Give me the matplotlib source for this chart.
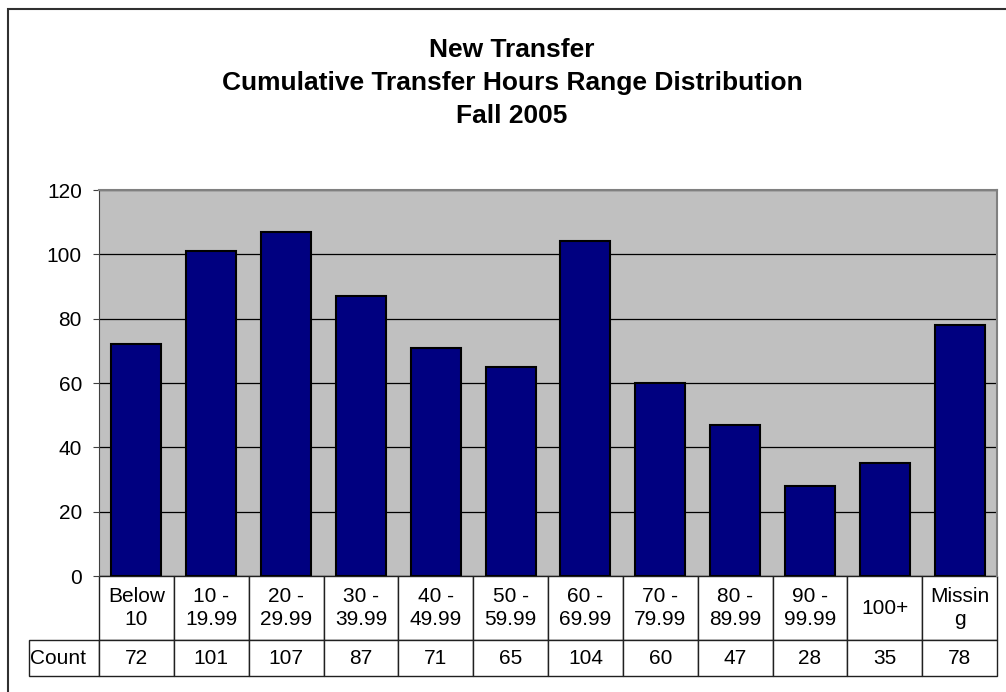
import matplotlib.pyplot as plt
from matplotlib.patches import Rectangle

plt.rcParams['font.family'] = ['Liberation Sans', 'DejaVu Sans']

# Cumulative transfer hours ranges for new transfers, Fall 2005
ranges = ["Below\n10", "10 -\n19.99", "20 -\n29.99", "30 -\n39.99", "40 -\n49.99",
          "50 -\n59.99", "60 -\n69.99", "70 -\n79.99", "80 -\n89.99", "90 -\n99.99",
          "100+", "Missin\ng"]
counts = [72, 101, 107, 87, 71, 65, 104, 60, 47, 28, 35, 78]
row_label = "Count"
yticks = [0, 20, 40, 60, 80, 100, 120]

W, H = 1006, 692
fig = plt.figure(figsize=(W / 100, H / 100), dpi=100)

# outer chart frame (clipped at right/bottom as in the original)
fig.patches.append(Rectangle((8 / W, -0.1), 1.2, (H - 9) / H + 0.1,
                             transform=fig.transFigure, fill=False,
                             edgecolor='#303030', linewidth=1.5))

titles = ["New Transfer", "Cumulative Transfer Hours Range Distribution", "Fall 2005"]
for i, t in enumerate(titles):
    fig.text(512 / W, 1 - (50 + 33 * i) / H, t, ha='center', va='center',
             fontsize=19, fontweight='bold')

left, right, top, bottom = 99, 997, 190, 576
ax = fig.add_axes([left / W, 1 - bottom / H, (right - left) / W, (bottom - top) / H])
ax.set_facecolor('#C0C0C0')

x = range(len(counts))
ax.bar(x, counts, width=0.667, color='#000080', edgecolor='black', linewidth=1.5, zorder=3)
ax.set_xlim(-0.5, len(counts) - 0.5)
ax.set_ylim(0, 120)
ax.set_yticks(yticks)
ax.yaxis.grid(True, color='black', linewidth=0.9, zorder=0)
ax.set_axisbelow(True)
ax.set_xticks([])
ax.tick_params(axis='y', direction='out', length=4.3, labelsize=15, pad=8, color='#404040')
for s in ['top', 'right']:
    ax.spines[s].set_color('#808080')
    ax.spines[s].set_linewidth(1.5)
ax.spines['left'].set_color('#404040')
ax.spines['bottom'].set_visible(False)

# data table under the plot; first column holds the row label
label_w = 70
tab_left = left - label_w
th = (676 - bottom) / (bottom - top)
tbl = ax.table(cellText=[[row_label] + [str(c) for c in counts]],
               colLabels=[""] + ranges, cellLoc='center',
               bbox=[(tab_left - left) / (right - left), -th,
                     (right - tab_left) / (right - left), th])
tbl.auto_set_font_size(False)
for (r, c), cell in tbl.get_celld().items():
    cell.set_fontsize(15)
    cell.set_linewidth(1.0)
    cell.set_edgecolor('#202020')
    cell.set_height(64 if r == 0 else 36)
    cell.set_width(label_w if c == 0 else 74.83)
    cell.PAD = 0.02
    cell.get_text().set_linespacing(1.25)
tbl[0, 0].visible_edges = ''
tbl[1, 0].get_text().set_horizontalalignment('left')
tbl[1, 0]._loc = 'left'

fig.savefig('out.png', dpi=100)
